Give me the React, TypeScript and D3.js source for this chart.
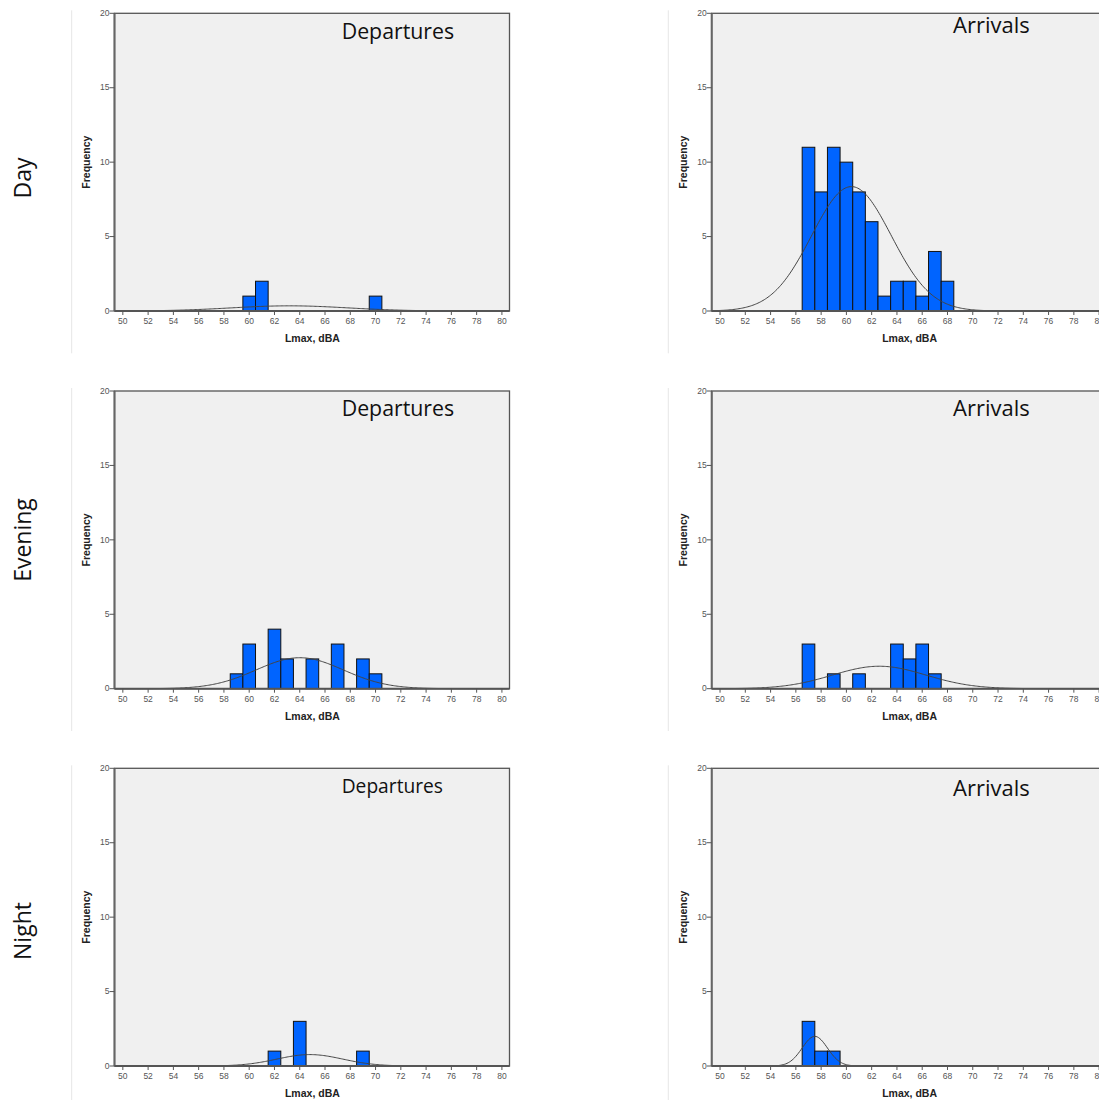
import * as React from 'react';
import * as d3 from 'd3';

// histogram bins: Lmax value (bin centre, width 1 dBA) and frequency
const dayDepBins = [60, 61, 70];
const dayDepCounts = [1, 2, 1];
const dayArrBins = [57, 58, 59, 60, 61, 62, 63, 64, 65, 66, 67, 68];
const dayArrCounts = [11, 8, 11, 10, 8, 6, 1, 2, 2, 1, 4, 2];
const eveDepBins = [59, 60, 62, 63, 65, 67, 69, 70];
const eveDepCounts = [1, 3, 4, 2, 2, 3, 2, 1];
const eveArrBins = [57, 59, 61, 64, 65, 66, 67];
const eveArrCounts = [3, 1, 1, 3, 2, 3, 1];
const nightDepBins = [62, 64, 69];
const nightDepCounts = [1, 3, 1];
const nightArrBins = [57, 58, 59];
const nightArrCounts = [3, 1, 1];

// fitted normal curves (mean, sd)
const curveMeans = [63.2, 60.4, 64.0, 62.6, 64.8, 57.5];
const curveSds = [4.6, 3.15, 3.45, 3.7, 2.6, 1.0];

const rowLabels = ['Day', 'Evening', 'Night'];
const panelTitles = ['Departures', 'Arrivals'];
const xTicks = d3.range(50, 81, 2);
const yTicks = [0, 5, 10, 15, 20];

const panels = [
  { bins: dayDepBins, counts: dayDepCounts },
  { bins: dayArrBins, counts: dayArrCounts },
  { bins: eveDepBins, counts: eveDepCounts },
  { bins: eveArrBins, counts: eveArrCounts },
  { bins: nightDepBins, counts: nightDepCounts },
  { bins: nightArrBins, counts: nightArrCounts },
];

const rowTops = [13.3, 391, 768.3];
const colLefts = [114.5, 711.7];
const plotW = 395;
const plotH = 297.7;
const titleSizes = [[21.3, 22], [21.3, 22], [19.2, 22]];
const titleBaselines = [[39, 33], [416, 416], [793, 796]];

const Panel = ({ idx }) => {
  const row = Math.floor(idx / 2);
  const col = idx % 2;
  const left = colLefts[col];
  const top = rowTops[row];
  const { bins, counts } = panels[idx];
  const x = d3.scaleLinear().domain([49.34, 80.6]).range([0, plotW]);
  const y = d3.scaleLinear().domain([0, 20]).range([plotH, 0]);
  const n = d3.sum(counts);
  const mu = curveMeans[idx];
  const sd = curveSds[idx];
  const pts = d3.range(49.4, 80.5, 0.1).map((v) => [
    v,
    (n / (sd * Math.sqrt(2 * Math.PI))) * Math.exp(-((v - mu) ** 2) / (2 * sd * sd)),
  ]);
  const line = d3
    .line()
    .x((d) => x(d[0]))
    .y((d) => y(d[1]))
    .curve(d3.curveBasis);
  const sep = col === 0 ? 71.7 : 668.3;

  return (
    <g>
      <line x1={sep} x2={sep} y1={top - 3} y2={top + 340} stroke='#e6e6e6' strokeWidth={1} />
      <g transform={`translate(${left},${top})`}>
        <rect x={0} y={0} width={plotW} height={plotH} fill='#f0f0f0' />
        {bins.map((b, i) => (
          <rect
            key={i}
            x={x(b - 0.5)}
            y={y(counts[i])}
            width={x(b + 0.5) - x(b - 0.5)}
            height={y(0) - y(counts[i])}
            fill='#0064ff'
            stroke='#111'
            strokeWidth={1}
          />
        ))}
        <path d={line(pts)} fill='none' stroke='#444' strokeWidth={1} />
        <rect x={0} y={0} width={plotW} height={plotH} fill='none' stroke='#555' strokeWidth={1.3} />
        <line x1={0} x2={0} y1={0} y2={plotH} stroke='#666' strokeWidth={2} />
        <line x1={0} x2={plotW} y1={plotH} y2={plotH} stroke='#555' strokeWidth={2} />
        {yTicks.map((t) => (
          <g key={t} transform={`translate(0,${y(t)})`}>
            <line x1={-5} x2={0} stroke='#555' strokeWidth={1} />
            <text x={-5} dy='0.32em' textAnchor='end' fontSize={8.5} fill='#555' fontFamily='Liberation Sans, Arial, sans-serif'>
              {t}
            </text>
          </g>
        ))}
        {xTicks.map((t) => (
          <g key={t} transform={`translate(${x(t)},${plotH})`}>
            <line y1={0} y2={4} stroke='#555' strokeWidth={1} />
            <text y={13} textAnchor='middle' fontSize={8.5} fill='#555' fontFamily='Liberation Sans, Arial, sans-serif'>
              {t}
            </text>
          </g>
        ))}
        <text
          transform={`translate(${-25},${plotH / 2}) rotate(-90)`}
          textAnchor='middle'
          fontSize={10.5}
          fontWeight='bold'
          fill='#222'
          fontFamily='Liberation Sans, Arial, sans-serif'>
          Frequency
        </text>
        <text
          x={x(65)}
          y={plotH + 31}
          textAnchor='middle'
          fontSize={10.5}
          fontWeight='bold'
          fill='#222'
          fontFamily='Liberation Sans, Arial, sans-serif'>
          Lmax, dBA
        </text>
      </g>
      <text
        x={col === 0 ? 341.7 : 953}
        y={titleBaselines[row][col]}
        fontSize={titleSizes[row][col]}
        fill='#111'
        fontFamily='Open Sans, sans-serif'>
        {panelTitles[col]}
      </text>
    </g>
  );
};

const App = () => {
  const rowCentres = [178, 540, 931];
  return (
    <div style={{ position: 'absolute', left: 0, top: 0 }}>
      <svg width={1099} height={1100} style={{ display: 'block', background: '#fff' }}>
        {panels.map((p, i) => (
          <Panel key={i} idx={i} />
        ))}
        {rowLabels.map((r, i) => (
          <text
            key={r}
            transform={`translate(31,${rowCentres[i]}) rotate(-90)`}
            textAnchor='middle'
            fontSize={23}
            fill='#111'
            fontFamily='Open Sans, sans-serif'>
            {r}
          </text>
        ))}
      </svg>
    </div>
  );
};

export default App;
